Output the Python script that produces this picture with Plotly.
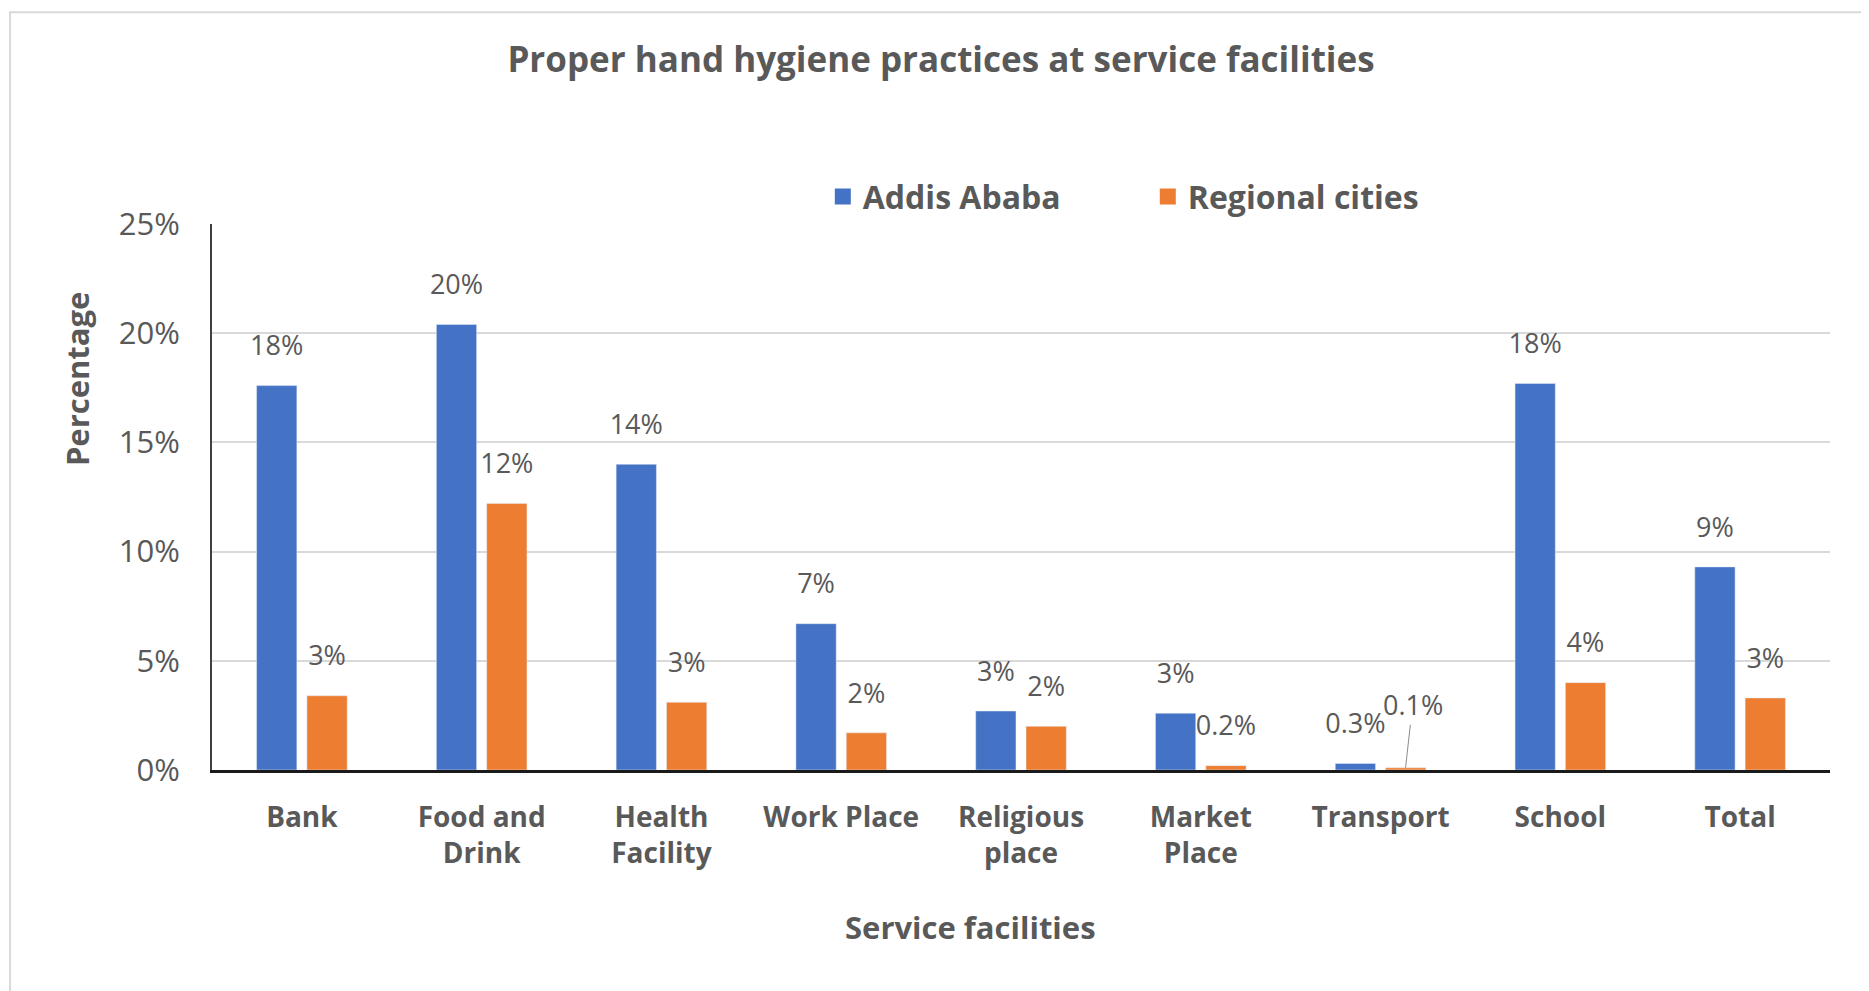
import plotly.graph_objects as go

categories = ["Bank", "Food and<br>Drink", "Health<br>Facility", "Work Place", "Religious<br>place",
              "Market<br>Place", "Transport", "School", "Total"]
addis_ababa = [0.176, 0.204, 0.140, 0.067, 0.027, 0.026, 0.003, 0.177, 0.093]
regional_cities = [0.034, 0.122, 0.031, 0.017, 0.020, 0.002, 0.001, 0.040, 0.033]
addis_labels = ["18%", "20%", "14%", "7%", "3%", "3%", "0.3%", "18%", "9%"]
regional_labels = ["3%", "12%", "3%", "2%", "2%", "0.2%", "0.1%", "4%", "3%"]

BLUE = "#4472C4"
ORANGE = "#ED7D31"
GREY = "#595959"
FONT = "Open Sans"

# the 0.1% label sits off the bar with a leader line, like in Excel
leader_idx = 6
reg_text = [t if i != leader_idx else "" for i, t in enumerate(regional_labels)]

fig = go.Figure()
fig.add_trace(go.Bar(name="Addis Ababa", x=categories, y=addis_ababa, marker_color=BLUE,
                     offsetgroup="a", showlegend=False, hoverinfo="skip"))
fig.add_trace(go.Bar(name="Regional cities", x=categories, y=regional_cities, marker_color=ORANGE,
                     offsetgroup="b", showlegend=False, hoverinfo="skip"))

# data labels as grouped text points so they line up with the bars
for vals, txt, grp in [(addis_ababa, addis_labels, "a"), (regional_cities, reg_text, "b")]:
    fig.add_trace(go.Scatter(x=categories, y=vals, mode="markers+text", text=txt,
                             textposition="top center", offsetgroup=grp,
                             marker=dict(size=36, color="rgba(0,0,0,0)"),
                             textfont=dict(family=FONT, size=27, color=GREY),
                             showlegend=False, cliponaxis=False, hoverinfo="skip"))

# legend entries with bigger square swatches
for name, col, grp in [("Addis Ababa", BLUE, "a"), ("Regional cities", ORANGE, "b")]:
    fig.add_trace(go.Scatter(x=[None], y=[None], mode="markers", name=name, offsetgroup=grp,
                             marker=dict(symbol="square", size=21, color=col)))

fig.add_annotation(x=categories[leader_idx], y=regional_cities[leader_idx], xref="x", yref="y",
                   xshift=25, text=regional_labels[leader_idx], showarrow=True, arrowhead=0,
                   arrowwidth=1, arrowcolor="#8c8c8c", ax=7, ay=-63,
                   font=dict(family=FONT, size=27, color=GREY))

fig.add_annotation(text="Percentage", x=-0.0834, y=0.716, xref="paper", yref="paper",
                   xanchor="center", yanchor="middle", textangle=-90, showarrow=False,
                   font=dict(family=FONT, size=31, color=GREY, weight="bold"))
fig.add_annotation(text="Service facilities", x=0.469, y=-0.2875, xref="paper", yref="paper",
                   xanchor="center", yanchor="middle", showarrow=False,
                   font=dict(family=FONT, size=31, color=GREY, weight="bold"))

# outer chart border
fig.add_shape(type="rect", xref="paper", yref="paper", x0=-0.1248, x1=1.2, y0=-0.6, y1=1.388,
              line=dict(color="#d9d9d9", width=2), layer="below")

fig.update_layout(
    width=1869, height=991,
    margin=dict(l=204, r=47, t=216, b=229),
    paper_bgcolor="white", plot_bgcolor="white",
    title=dict(text="Proper hand hygiene practices at service facilities", x=0.4992, y=0.9475,
               xanchor="center", yanchor="middle",
               font=dict(family=FONT, size=35, color=GREY, weight="bold")),
    barmode="group", bargap=0.44, bargroupgap=0.2,
    scattermode="group", scattergap=0.44,
    legend=dict(orientation="h", x=0.3775, y=1.05, xanchor="left", yanchor="middle",
                font=dict(family=FONT, size=32, color=GREY, weight="bold"),
                traceorder="normal", entrywidth=280),
    font=dict(family=FONT, color=GREY),
    xaxis=dict(showline=True, linecolor="#1a1a1a", linewidth=3, showgrid=False,
               tickfont=dict(family=FONT, size=28, color=GREY, weight="bold"),
               ticklabelstandoff=20),
    yaxis=dict(range=[0, 0.25], dtick=0.05, tickformat=".0%", showgrid=True,
               gridcolor="#d9d9d9", gridwidth=2, showline=True, linecolor="#404040",
               linewidth=2, zeroline=False, tickfont=dict(family=FONT, size=31, color=GREY),
               ticklabelstandoff=24),
)

fig.write_html("out.html")
